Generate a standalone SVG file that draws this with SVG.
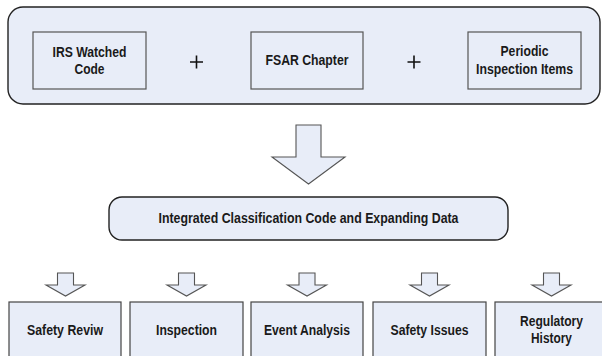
<svg xmlns="http://www.w3.org/2000/svg" width="602" height="356" viewBox="0 0 602 356">
  <style>
    .panel { fill: #e8edf8; stroke: #222; stroke-width: 1.4; }
    .item { fill: #e8edf8; stroke: #555; stroke-width: 1.2; }
    .out { fill: #e8edf8; stroke: #444; stroke-width: 1.2; }
    .arrow { fill: #e8edf8; stroke: #555; stroke-width: 1.1; stroke-linejoin: miter; }
    .plus { stroke: #111; stroke-width: 1.6; fill: none; }
    text { font-family: "Liberation Sans", Arial, sans-serif; font-size: 14.5px; font-weight: bold; fill: #1a1a1a; text-anchor: middle; }
  </style>
  <defs>
    <path id="small-arrow" d="M -8 0 H 8 V 12 H 19.5 L 0 23 L -19.5 12 H -8 Z"/>
  </defs>

  <!-- source panel -->
  <g id="sources">
    <rect class="panel" x="8" y="7" width="592" height="97" rx="15" ry="15"/>
  </g>
  <g id="irs-code">
    <rect class="item" x="33" y="32" width="113" height="57"/>
    <text x="89.5" y="57" textLength="74" lengthAdjust="spacingAndGlyphs">IRS Watched</text>
    <text x="89.5" y="74" textLength="30" lengthAdjust="spacingAndGlyphs">Code</text>
  </g>
  <g id="plus-1">
    <path class="plus" d="M 190 62 H 203 M 196.5 55.5 V 68.5"/>
  </g>
  <g id="fsar-chapter">
    <rect class="item" x="251" y="32" width="112" height="57"/>
    <text x="307" y="65" textLength="83" lengthAdjust="spacingAndGlyphs">FSAR Chapter</text>
  </g>
  <g id="plus-2">
    <path class="plus" d="M 407.5 62 H 420.5 M 414 55.5 V 68.5"/>
  </g>
  <g id="periodic-items">
    <rect class="item" x="468" y="32" width="113" height="57"/>
    <text x="524.5" y="56" textLength="48" lengthAdjust="spacingAndGlyphs">Periodic</text>
    <text x="524.5" y="74" textLength="97" lengthAdjust="spacingAndGlyphs">Inspection Items</text>
  </g>

  <!-- integrated code -->
  <g id="integrated">
    <rect class="panel" x="109" y="197" width="399" height="43" rx="13" ry="13"/>
    <text x="308.5" y="223" textLength="300" lengthAdjust="spacingAndGlyphs">Integrated Classification Code and Expanding Data</text>
  </g>

  <!-- outputs -->
  <g id="safety-review">
    <rect class="out" x="9" y="302" width="112" height="70"/>
    <text x="65" y="335" textLength="76" lengthAdjust="spacingAndGlyphs">Safety Reviw</text>
  </g>
  <g id="inspection">
    <rect class="out" x="130" y="302" width="113" height="70"/>
    <text x="186.5" y="335" textLength="61" lengthAdjust="spacingAndGlyphs">Inspection</text>
  </g>
  <g id="event-analysis">
    <rect class="out" x="251" y="302" width="112" height="70"/>
    <text x="307" y="335" textLength="86" lengthAdjust="spacingAndGlyphs">Event Analysis</text>
  </g>
  <g id="safety-issues">
    <rect class="out" x="373" y="302" width="113" height="70"/>
    <text x="429.5" y="335" textLength="78" lengthAdjust="spacingAndGlyphs">Safety Issues</text>
  </g>
  <g id="regulatory-history">
    <rect class="out" x="495" y="302" width="113" height="70"/>
    <text x="551.5" y="326" textLength="63" lengthAdjust="spacingAndGlyphs">Regulatory</text>
    <text x="551.5" y="343" textLength="41" lengthAdjust="spacingAndGlyphs">History</text>
  </g>

  <!-- block arrows -->
  <g id="connectors">
    <path class="arrow" d="M 296 125 H 321 V 157 H 345 L 308.5 184 L 272 157 H 296 Z"/>
    <use class="arrow" href="#small-arrow" x="65.5" y="273"/>
    <use class="arrow" href="#small-arrow" x="186.5" y="273"/>
    <use class="arrow" href="#small-arrow" x="307" y="273"/>
    <use class="arrow" href="#small-arrow" x="429.5" y="273"/>
    <use class="arrow" href="#small-arrow" x="551.5" y="273"/>
  </g>
</svg>
